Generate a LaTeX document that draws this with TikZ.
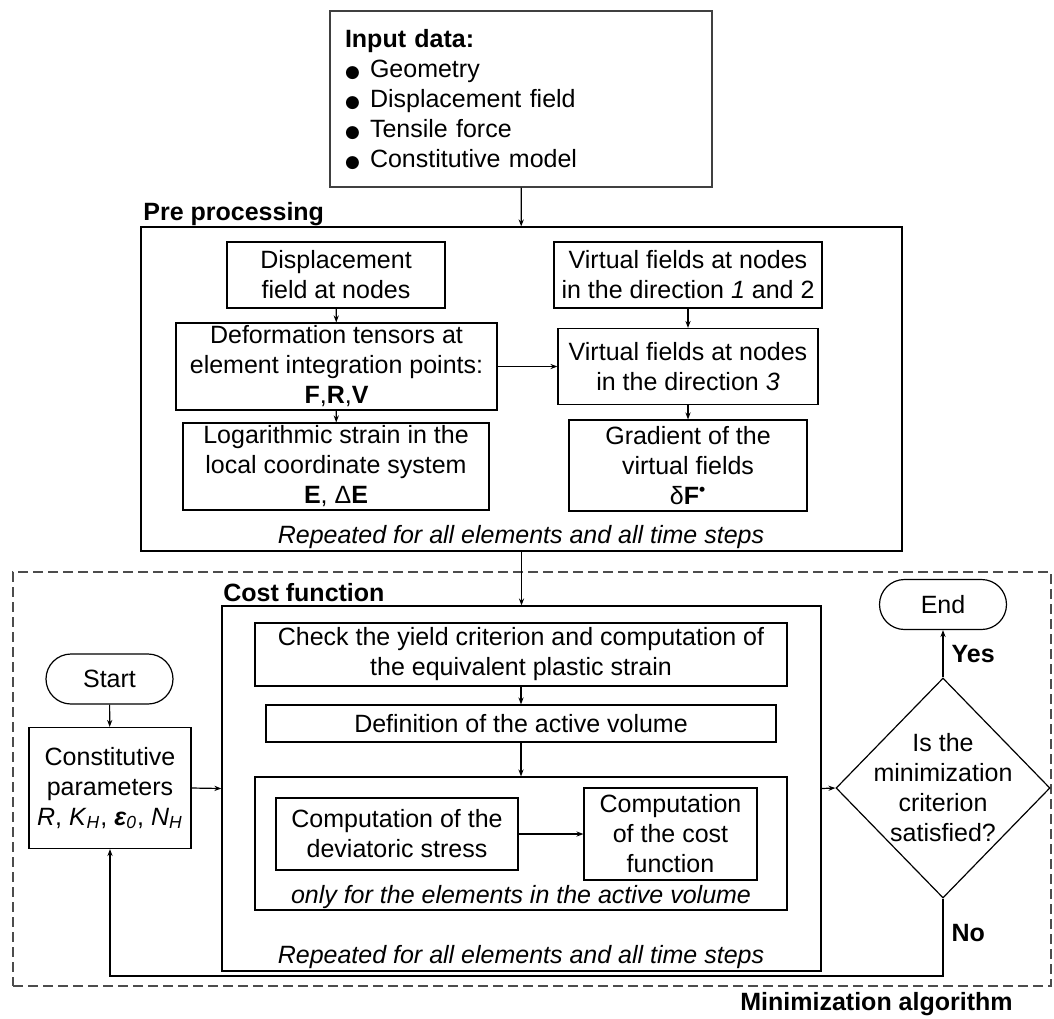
\documentclass[tikz,border=0pt]{standalone}
\usepackage{fontspec}
\setmainfont{Liberation Sans}
\newfontfamily\simbolos{DejaVu Sans}
\usetikzlibrary{positioning}
\usetikzlibrary{shapes}
\usetikzlibrary{arrows.meta}
\newcommand{\fonte}{\fontsize{12.5}{15}\selectfont}
\newcommand{\marca}{\makebox[12.5pt][l]{\simbolos\fontsize{8.5}{15}\selectfont ●}}

\begin{document}
\begin{tikzpicture}[x=0.5pt, y=-0.5pt, >={Stealth[length=3.5pt,width=2.6pt]}, every node/.style={font=\fonte}]
			\tikzset{
				caixa/.style={draw, line width=0.6pt, align=center, inner sep=0pt},
				grupo/.style={draw, line width=0.6pt, inner sep=0pt},
				titulo/.style={font=\fonte\bfseries, inner sep=0pt, anchor=base west},
				nota/.style={font=\fonte\itshape, inner sep=0pt},
				rotulo/.style={font=\fonte\bfseries, inner sep=4pt},
				terminal/.style={draw, line width=0.6pt, rounded corners=12.5pt, inner sep=0pt,
					minimum width=63.5pt, minimum height=25pt},
				decisao/.style={draw, diamond, line width=0.6pt, inner sep=-12pt, align=center,
					minimum width=107pt, minimum height=110pt},
				fluxo/.style={->, line width=0.6pt}
			}
			\useasboundingbox (0,0) rectangle (1054,1018);
			% dados de entrada
			\node[caixa, draw=black!75, align=left, text width=176pt, inner xsep=7.5pt, minimum height=88pt] (entrada) at (521,99)
				{\textbf{Input data:}\\ \marca Geometry\\ \marca Displacement field\\ \marca Tensile force\\ \marca Constitutive model};
			% pre processamento
			\node[grupo, minimum width=380.5pt, minimum height=162pt] (pre) at (521.5,389) {};
			\node[titulo] (tpre) at (143,220) {Pre processing};
			\node[caixa, minimum width=109pt, minimum height=33pt] (desl) at (336,275) {Displacement\\field at nodes};
			\node[caixa, minimum width=160.5pt, minimum height=43.5pt] (deform) at (336.5,366.5) {Deformation tensors at\\element integration points:\\\textbf{F},\textbf{R},\textbf{V}};
			\node[caixa, minimum width=153pt, minimum height=43.5pt] (logst) at (336,466.5) {Logarithmic strain in the\\local coordinate system\\\textbf{E}, Δ\textbf{E}};
			\node[caixa, minimum width=134pt, minimum height=33pt] (virt12) at (688,275) {Virtual fields at nodes\\in the direction \textit{1} and 2};
			\node[caixa, minimum width=130pt, minimum height=38pt] (virt3) at (688,366.5) {Virtual fields at nodes\\in the direction \textit{3}};
			\node[caixa, minimum width=119pt, minimum height=45.5pt] (grad) at (688,465.5) {Gradient of the\\virtual fields\\δ\textbf{F}\textsuperscript{\textbf{•}}};
			\node[nota] (rep1) at (521,537) {Repeated for all elements and all time steps};
			% algoritmo de minimizacao
			\node[grupo, dashed, dash pattern=on 5pt off 2.5pt, draw=black!70, minimum width=519pt, minimum height=207pt] (minim) at (532,779) {};
			\node[titulo, anchor=base east] (tmin) at (1013,1010) {Minimization algorithm};
			\node[terminal] (inicio) at (109.5,679) {Start};
			\node[caixa, minimum width=81pt, minimum height=60.5pt] (param) at (110,788) {Constitutive\\parameters\\\textit{R}, \textit{K}\textsubscript{\textit{H}}, \textbf{\textit{ε}}\textsubscript{\textit{0}}, \textit{N}\textsubscript{\textit{H}}};
			% funcao custo
			\node[grupo, minimum width=299.5pt, minimum height=182.5pt] (custo) at (521.5,788.5) {};
			\node[titulo] (tcusto) at (223,601) {Cost function};
			\node[caixa, minimum width=266pt, minimum height=31.5pt] (escoam) at (521,654.5) {Check the yield criterion and computation of\\the equivalent plastic strain};
			\node[caixa, minimum width=255pt, minimum height=18.5pt] (volume) at (521,723.5) {Definition of the active volume};
			\node[grupo, minimum width=266pt, minimum height=66.5pt] (ativo) at (521,843.5) {};
			\node[caixa, minimum width=121pt, minimum height=36pt] (desvio) at (397,834) {Computation of the\\deviatoric stress};
			\node[caixa, minimum width=86.5pt, minimum height=46pt] (fcusto) at (670.5,834) {Computation\\of the cost\\function};
			\node[nota] (soativo) at (521,897) {only for the elements in the active volume};
			\node[nota] (rep2) at (521,957) {Repeated for all elements and all time steps};
			\node[decisao] (criterio) at (943,788) {Is the\\minimization\\criterion\\satisfied?};
			\node[terminal] (fim) at (943,604.5) {End};
			\coordinate (volta) at (110,976);
			\draw[fluxo] (entrada) -- (pre);
			\draw[fluxo] (desl) -- (deform);
			\draw[fluxo] (deform) -- (logst);
			\draw[fluxo] (virt12) -- (virt3);
			\draw[fluxo] (virt3) -- (grad);
			\draw[fluxo] (deform.east) -- (virt3.west);
			\draw[fluxo] (pre) -- (custo);
			\draw[fluxo] (escoam) -- (volume);
			\draw[fluxo] (volume) -- (ativo);
			\draw[fluxo] (desvio) -- (fcusto);
			\draw[fluxo] (inicio) -- (param);
			\draw[fluxo] (param.east) -- (custo.west);
			\draw[fluxo] (custo.east) -- (criterio.west);
			\draw[fluxo] (criterio.north) -- node[rotulo, right] {Yes} (fim.south);
			\draw[fluxo] (criterio.south) |- node[rotulo, right, pos=0.22] {No} (volta) -- (param.south);
		\end{tikzpicture}
\end{document}
